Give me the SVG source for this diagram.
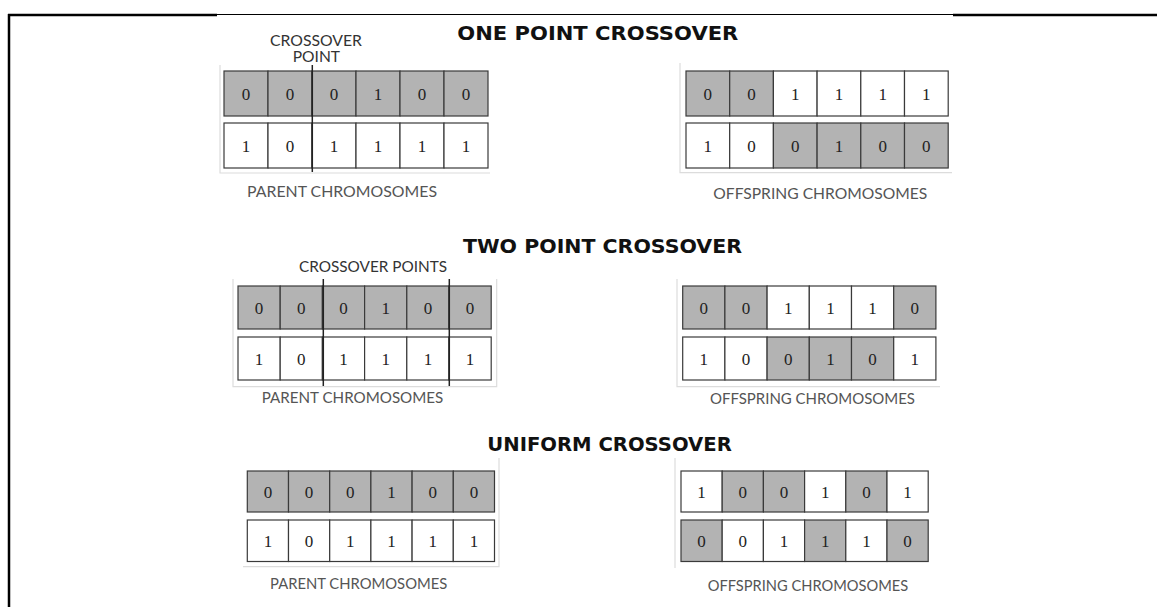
<svg xmlns="http://www.w3.org/2000/svg" width="1157" height="607" viewBox="0 0 1157 607">
<style>
.bg{fill:#ffffff}
.g{fill:#b3b3b3;stroke:#3a3a3a;stroke-width:1.2}
.w{fill:#ffffff;stroke:#3a3a3a;stroke-width:1.2}
.d{font-family:"Liberation Serif",serif;font-size:17px;fill:#222;text-anchor:middle}
.t{font-family:"DejaVu Sans",sans-serif;font-weight:bold;font-size:19.5px;fill:#111}
.l{font-family:Lato,"Liberation Sans",sans-serif;font-size:15.5px;fill:#555}
.c{font-family:Lato,"Liberation Sans",sans-serif;font-size:15.5px;fill:#333}
.f{fill:none;stroke:#dcdcdc;stroke-width:1.2}
.x{stroke:#222;stroke-width:1.5}
.b{stroke:#000;fill:none}
</style>
<rect class="bg" x="0" y="0" width="1157" height="607"/>
<g id="border">
<line class="b" x1="9" y1="14" x2="9" y2="607" stroke-width="2.5"/>
<line class="b" x1="8" y1="15" x2="217" y2="15" stroke-width="2.5"/>
<line class="b" x1="217" y1="14.5" x2="953" y2="14.5" stroke-width="1.2"/>
<line class="b" x1="953" y1="15" x2="1157" y2="15" stroke-width="2.5"/>
</g>
<g id="titles">
<text class="t" x="457.3" y="40" textLength="281" lengthAdjust="spacingAndGlyphs">ONE POINT CROSSOVER</text>
<text class="t" x="463" y="252.7" textLength="279" lengthAdjust="spacingAndGlyphs">TWO POINT CROSSOVER</text>
<text class="t" x="487.3" y="450.7" textLength="244.5" lengthAdjust="spacingAndGlyphs">UNIFORM CROSSOVER</text>
</g>
<g id="frames">
<polyline class="f" points="220,65 220,173 490,173"/>
<polyline class="f" points="680,63 680,172.7 952,172.7"/>
<polyline class="f" points="233,279 233,386.7 496.7,386.7 496.7,279"/>
<polyline class="f" points="677,279 677,386.7 940,386.7"/>
<polyline class="f" points="243,566.7 499,566.7 499,458"/>
<polyline class="f" points="675,458 675,568"/>
</g>
<g id="parent1">
<rect class="g" x="224" y="71" width="44" height="45"/><rect class="g" x="268" y="71" width="44" height="45"/><rect class="g" x="312" y="71" width="44" height="45"/><rect class="g" x="356" y="71" width="44" height="45"/><rect class="g" x="400" y="71" width="44" height="45"/><rect class="g" x="444" y="71" width="44" height="45"/>
<rect class="w" x="224" y="123" width="44" height="45"/><rect class="w" x="268" y="123" width="44" height="45"/><rect class="w" x="312" y="123" width="44" height="45"/><rect class="w" x="356" y="123" width="44" height="45"/><rect class="w" x="400" y="123" width="44" height="45"/><rect class="w" x="444" y="123" width="44" height="45"/>
<text class="d" x="246" y="99.5">0</text><text class="d" x="290" y="99.5">0</text><text class="d" x="334" y="99.5">0</text><text class="d" x="378" y="99.5">1</text><text class="d" x="422" y="99.5">0</text><text class="d" x="466" y="99.5">0</text>
<text class="d" x="246" y="151.5">1</text><text class="d" x="290" y="151.5">0</text><text class="d" x="334" y="151.5">1</text><text class="d" x="378" y="151.5">1</text><text class="d" x="422" y="151.5">1</text><text class="d" x="466" y="151.5">1</text>
<text class="c" x="270" y="45.7" textLength="92" lengthAdjust="spacingAndGlyphs">CROSSOVER</text>
<text class="c" x="292.7" y="62" textLength="47.3" lengthAdjust="spacingAndGlyphs">POINT</text>
<text class="l" x="247" y="197" textLength="190" lengthAdjust="spacingAndGlyphs">PARENT CHROMOSOMES</text>
</g>
<g id="offspring1">
<rect class="g" x="686" y="71" width="43.7" height="45"/><rect class="g" x="729.7" y="71" width="43.7" height="45"/><rect class="w" x="773.4" y="71" width="43.7" height="45"/><rect class="w" x="817.1" y="71" width="43.7" height="45"/><rect class="w" x="860.8" y="71" width="43.7" height="45"/><rect class="w" x="904.5" y="71" width="43.7" height="45"/>
<rect class="w" x="686" y="123" width="43.7" height="45"/><rect class="w" x="729.7" y="123" width="43.7" height="45"/><rect class="g" x="773.4" y="123" width="43.7" height="45"/><rect class="g" x="817.1" y="123" width="43.7" height="45"/><rect class="g" x="860.8" y="123" width="43.7" height="45"/><rect class="g" x="904.5" y="123" width="43.7" height="45"/>
<text class="d" x="707.85" y="99.5">0</text><text class="d" x="751.55" y="99.5">0</text><text class="d" x="795.25" y="99.5">1</text><text class="d" x="838.95" y="99.5">1</text><text class="d" x="882.65" y="99.5">1</text><text class="d" x="926.35" y="99.5">1</text>
<text class="d" x="707.85" y="151.5">1</text><text class="d" x="751.55" y="151.5">0</text><text class="d" x="795.25" y="151.5">0</text><text class="d" x="838.95" y="151.5">1</text><text class="d" x="882.65" y="151.5">0</text><text class="d" x="926.35" y="151.5">0</text>
<text class="l" x="713.3" y="199" textLength="214" lengthAdjust="spacingAndGlyphs">OFFSPRING CHROMOSOMES</text>
</g>
<g id="parent2">
<rect class="g" x="238" y="286" width="42.2" height="43"/><rect class="g" x="280.2" y="286" width="42.2" height="43"/><rect class="g" x="322.4" y="286" width="42.2" height="43"/><rect class="g" x="364.6" y="286" width="42.2" height="43"/><rect class="g" x="406.8" y="286" width="42.2" height="43"/><rect class="g" x="449" y="286" width="42.2" height="43"/>
<rect class="w" x="238" y="337" width="42.2" height="43"/><rect class="w" x="280.2" y="337" width="42.2" height="43"/><rect class="w" x="322.4" y="337" width="42.2" height="43"/><rect class="w" x="364.6" y="337" width="42.2" height="43"/><rect class="w" x="406.8" y="337" width="42.2" height="43"/><rect class="w" x="449" y="337" width="42.2" height="43"/>
<text class="d" x="259.1" y="313.5">0</text><text class="d" x="301.3" y="313.5">0</text><text class="d" x="343.5" y="313.5">0</text><text class="d" x="385.7" y="313.5">1</text><text class="d" x="427.9" y="313.5">0</text><text class="d" x="470.1" y="313.5">0</text>
<text class="d" x="259.1" y="364.5">1</text><text class="d" x="301.3" y="364.5">0</text><text class="d" x="343.5" y="364.5">1</text><text class="d" x="385.7" y="364.5">1</text><text class="d" x="427.9" y="364.5">1</text><text class="d" x="470.1" y="364.5">1</text>
<text class="c" x="299" y="271.7" textLength="148" lengthAdjust="spacingAndGlyphs">CROSSOVER POINTS</text>
<text class="l" x="261.7" y="403.3" textLength="181.6" lengthAdjust="spacingAndGlyphs">PARENT CHROMOSOMES</text>
</g>
<g id="offspring2">
<rect class="g" x="682.7" y="286" width="42.2" height="43"/><rect class="g" x="724.9" y="286" width="42.2" height="43"/><rect class="w" x="767.1" y="286" width="42.2" height="43"/><rect class="w" x="809.3" y="286" width="42.2" height="43"/><rect class="w" x="851.5" y="286" width="42.2" height="43"/><rect class="g" x="893.7" y="286" width="42.2" height="43"/>
<rect class="w" x="682.7" y="337" width="42.2" height="43"/><rect class="w" x="724.9" y="337" width="42.2" height="43"/><rect class="g" x="767.1" y="337" width="42.2" height="43"/><rect class="g" x="809.3" y="337" width="42.2" height="43"/><rect class="g" x="851.5" y="337" width="42.2" height="43"/><rect class="w" x="893.7" y="337" width="42.2" height="43"/>
<text class="d" x="703.8" y="313.5">0</text><text class="d" x="746" y="313.5">0</text><text class="d" x="788.2" y="313.5">1</text><text class="d" x="830.4" y="313.5">1</text><text class="d" x="872.6" y="313.5">1</text><text class="d" x="914.8" y="313.5">0</text>
<text class="d" x="703.8" y="364.5">1</text><text class="d" x="746" y="364.5">0</text><text class="d" x="788.2" y="364.5">0</text><text class="d" x="830.4" y="364.5">1</text><text class="d" x="872.6" y="364.5">0</text><text class="d" x="914.8" y="364.5">1</text>
<text class="l" x="710" y="404" textLength="205" lengthAdjust="spacingAndGlyphs">OFFSPRING CHROMOSOMES</text>
</g>
<g id="parent3">
<rect class="g" x="247.3" y="471" width="41.2" height="41"/><rect class="g" x="288.5" y="471" width="41.2" height="41"/><rect class="g" x="329.7" y="471" width="41.2" height="41"/><rect class="g" x="370.9" y="471" width="41.2" height="41"/><rect class="g" x="412.1" y="471" width="41.2" height="41"/><rect class="g" x="453.3" y="471" width="41.2" height="41"/>
<rect class="w" x="247.3" y="520" width="41.2" height="41.5"/><rect class="w" x="288.5" y="520" width="41.2" height="41.5"/><rect class="w" x="329.7" y="520" width="41.2" height="41.5"/><rect class="w" x="370.9" y="520" width="41.2" height="41.5"/><rect class="w" x="412.1" y="520" width="41.2" height="41.5"/><rect class="w" x="453.3" y="520" width="41.2" height="41.5"/>
<text class="d" x="267.9" y="497.5">0</text><text class="d" x="309.1" y="497.5">0</text><text class="d" x="350.3" y="497.5">0</text><text class="d" x="391.5" y="497.5">1</text><text class="d" x="432.7" y="497.5">0</text><text class="d" x="473.9" y="497.5">0</text>
<text class="d" x="267.9" y="546.5">1</text><text class="d" x="309.1" y="546.5">0</text><text class="d" x="350.3" y="546.5">1</text><text class="d" x="391.5" y="546.5">1</text><text class="d" x="432.7" y="546.5">1</text><text class="d" x="473.9" y="546.5">1</text>
<text class="l" x="270" y="589.3" textLength="177.3" lengthAdjust="spacingAndGlyphs">PARENT CHROMOSOMES</text>
</g>
<g id="offspring3">
<rect class="w" x="681" y="471" width="41.2" height="41"/><rect class="g" x="722.2" y="471" width="41.2" height="41"/><rect class="g" x="763.4" y="471" width="41.2" height="41"/><rect class="w" x="804.6" y="471" width="41.2" height="41"/><rect class="g" x="845.8" y="471" width="41.2" height="41"/><rect class="w" x="887" y="471" width="41.2" height="41"/>
<rect class="g" x="681" y="520" width="41.2" height="41.5"/><rect class="w" x="722.2" y="520" width="41.2" height="41.5"/><rect class="w" x="763.4" y="520" width="41.2" height="41.5"/><rect class="g" x="804.6" y="520" width="41.2" height="41.5"/><rect class="w" x="845.8" y="520" width="41.2" height="41.5"/><rect class="g" x="887" y="520" width="41.2" height="41.5"/>
<text class="d" x="701.6" y="497.5">1</text><text class="d" x="742.8" y="497.5">0</text><text class="d" x="784" y="497.5">0</text><text class="d" x="825.2" y="497.5">1</text><text class="d" x="866.4" y="497.5">0</text><text class="d" x="907.6" y="497.5">1</text>
<text class="d" x="701.6" y="546.5">0</text><text class="d" x="742.8" y="546.5">0</text><text class="d" x="784" y="546.5">1</text><text class="d" x="825.2" y="546.5">1</text><text class="d" x="866.4" y="546.5">1</text><text class="d" x="907.6" y="546.5">0</text>
<text class="l" x="707.7" y="590.7" textLength="200.6" lengthAdjust="spacingAndGlyphs">OFFSPRING CHROMOSOMES</text>
</g>
<g id="connectors">
<line class="x" x1="312.3" y1="65" x2="312.3" y2="172"/>
<line class="x" x1="323.3" y1="279" x2="323.3" y2="386"/>
<line class="x" x1="449.3" y1="279" x2="449.3" y2="386"/>
</g>
</svg>
